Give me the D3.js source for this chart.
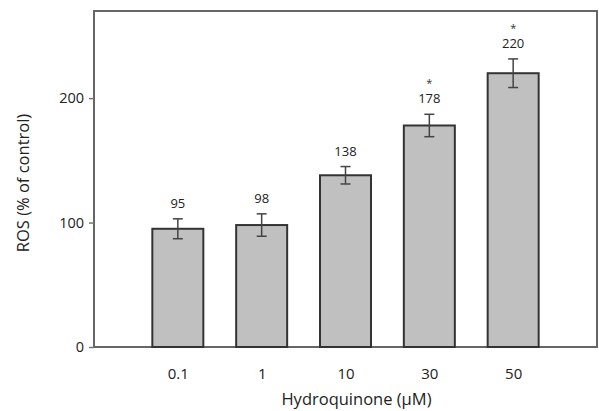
<!DOCTYPE html>
<html>
<head>
<meta charset="utf-8">
<script src="https://cdn.jsdelivr.net/npm/d3@7"></script>
<style>
  body { margin: 0; background: #fff; }
  text { font-family: "Open Sans", "Noto Sans", sans-serif; fill: #222; }
</style>
</head>
<body>
<div id="chart"></div>
<script>
const doses = ['0.1', '1', '10', '30', '50'];
const rosValues = [95, 98, 138, 178, 220];
const rosErrors = [8, 9, 7, 9, 11.5];
const significant = [false, false, false, true, true];
const yTicks = [0, 100, 200];

const width = 599, height = 411;
const margin = { top: 11, right: 2, bottom: 64, left: 94 };
const innerW = width - margin.left - margin.right;
const innerH = height - margin.top - margin.bottom;

const data = doses.map((dose, i) => ({
    dose: dose,
    value: rosValues[i],
    err: rosErrors[i],
    sig: significant[i]
}));

const svg = d3.select('#chart').append('svg')
    .attr('width', width)
    .attr('height', height);

const g = svg.append('g').attr('transform', `translate(${margin.left},${margin.top})`);

const x = d3.scalePoint()
    .domain(doses)
    .range([0, innerW])
    .padding(1);

const y = d3.scaleLinear()
    .domain([0, 270])
    .range([innerH, 0]);

const barW = 51;

// frame
g.append('rect')
    .attr('x', 0).attr('y', 0)
    .attr('width', innerW).attr('height', innerH)
    .attr('fill', 'none')
    .attr('stroke', '#666')
    .attr('stroke-width', 2);

// y axis
const yAxis = g.append('g')
    .call(d3.axisLeft(y).tickValues(yTicks).tickSize(5).tickPadding(5));
yAxis.select('.domain').remove();
yAxis.selectAll('line').attr('stroke', '#777').attr('stroke-width', 1.5);
yAxis.selectAll('text').style('font-size', '14.5px').attr('fill', '#222');

// x axis labels
const xAxis = g.append('g')
    .attr('transform', `translate(0,${innerH})`)
    .call(d3.axisBottom(x).tickSize(0).tickPadding(21));
xAxis.select('.domain').remove();
xAxis.selectAll('text').style('font-size', '15px').attr('fill', '#222');

// bars
g.selectAll('.bar')
    .data(data)
    .enter().append('rect')
    .attr('class', 'bar')
    .attr('x', d => x(d.dose) - barW / 2)
    .attr('y', d => y(d.value))
    .attr('width', barW)
    .attr('height', d => innerH - y(d.value))
    .attr('fill', '#c0c0c0')
    .attr('stroke', '#333')
    .attr('stroke-width', 2);

// error bars
const err = g.selectAll('.err')
    .data(data)
    .enter().append('g')
    .attr('class', 'err')
    .attr('stroke', '#444')
    .attr('stroke-width', 1.5);

err.append('line')
    .attr('x1', d => x(d.dose))
    .attr('x2', d => x(d.dose))
    .attr('y1', d => y(d.value + d.err))
    .attr('y2', d => y(d.value - d.err));
err.append('line')
    .attr('x1', d => x(d.dose) - 5)
    .attr('x2', d => x(d.dose) + 5)
    .attr('y1', d => y(d.value + d.err))
    .attr('y2', d => y(d.value + d.err));
err.append('line')
    .attr('x1', d => x(d.dose) - 5)
    .attr('x2', d => x(d.dose) + 5)
    .attr('y1', d => y(d.value - d.err))
    .attr('y2', d => y(d.value - d.err));

// value labels
g.selectAll('.val')
    .data(data)
    .enter().append('text')
    .attr('class', 'val')
    .attr('x', d => x(d.dose))
    .attr('y', d => y(d.value + d.err) - 11)
    .attr('text-anchor', 'middle')
    .style('font-size', '13px')
    .text(d => d.value);

// significance stars
g.selectAll('.star')
    .data(data.filter(d => d.sig))
    .enter().append('text')
    .attr('class', 'star')
    .attr('x', d => x(d.dose))
    .attr('y', d => y(d.value + d.err) - 27)
    .attr('text-anchor', 'middle')
    .style('font-size', '11px')
    .style('fill', '#333')
    .text('*');

// axis titles
g.append('text')
    .attr('x', innerW / 2 + 11)
    .attr('y', innerH + 58)
    .attr('text-anchor', 'middle')
    .style('font-size', '16.5px')
    .text('Hydroquinone (μM)');

g.append('text')
    .attr('transform', 'rotate(-90)')
    .attr('x', -(183 - margin.top))
    .attr('y', -65)
    .attr('text-anchor', 'middle')
    .style('font-size', '16.5px')
    .text('ROS (% of control)');
</script>
</body>
</html>
